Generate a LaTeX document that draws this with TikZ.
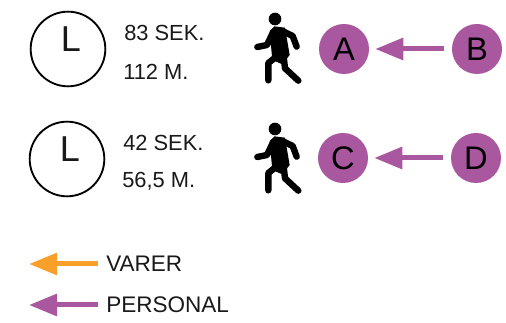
\documentclass[tikz,border=0pt]{standalone}
\usepackage{fontspec}
\setmainfont{Liberation Sans}
\usetikzlibrary{arrows.meta}
\definecolor{purp}{HTML}{A9579F}
\definecolor{oran}{HTML}{F9A02B}
\tikzset{
  x=0.75pt,y=-0.75pt,
  clockface/.style={circle,draw=black,line width=1.4pt,minimum size=56pt,inner sep=0pt},
  hand/.style={inner sep=0pt,text=black!90,font=\fontsize{27}{27}\selectfont},
  stop/.style={circle,fill=purp,minimum size=37.5pt,inner sep=0pt,text=black,font=\fontsize{24.5}{25}\selectfont},
  lbl/.style={anchor=west,inner sep=0pt,text=black!90,font=\fontsize{16.4}{17}\selectfont},
  keylbl/.style={anchor=west,inner sep=0pt,text=black!90,font=\fontsize{16.9}{17}\selectfont},
  flow/.style={line width=3.75pt,-{Triangle[length=21pt,width=16pt]}},
  limb/.style={line width=4.8pt,line cap=round,line join=round,black},
}
\newcommand{\walker}[2]{%
  \begin{scope}[shift={(#1,#2)},x=0.25pt,y=-0.25pt]
    \fill (90,42) circle[radius=19];
    \fill (74,80) -- (88,64) -- (120,68) -- (134,150) -- (112,178) -- (82,165) -- cycle;
    \draw[limb] (112,78) -- (143,93) -- (155,125);
    \draw[limb] (85,80) -- (66,120) -- (37,126);
    \draw[limb] (103,148) -- (70,174) -- (70,226);
    \draw[limb] (116,155) -- (120,190) -- (160,227);
  \end{scope}}
\begin{document}
\begin{tikzpicture}
\useasboundingbox (0,0) rectangle (506,323);
\node[clockface] (c1) at (68,49) {};
\node[hand] (h1) at (71,39.5) {L};
\node[lbl] (t1) at (124,33) {83 SEK.};
\node[lbl] (t2) at (123,72) {112 M.};
\node[clockface] (c2) at (67,159) {};
\node[hand] (h2) at (70,149.5) {L};
\node[lbl] (t3) at (123,143) {42 SEK.};
\node[lbl] (t4) at (122,181) {56,5 M.};
\walker{245}{5}
\walker{245}{115}
\node[stop] (a) at (344,49) {A};
\node[stop] (b) at (477,49) {B};
\node[stop] (c) at (343,158) {C};
\node[stop] (d) at (476,158) {D};
\draw[flow,purp,shorten <=6pt,shorten >=4.5pt] (b) -- (a);
\draw[flow,purp,shorten <=6pt,shorten >=4.5pt] (d) -- (c);
\node[keylbl] (v) at (106,264) {VARER};
\node[keylbl] (p) at (106,305) {PERSONAL};
\coordinate (ve) at (29,264);
\coordinate (pe) at (29,305);
\draw[flow,oran,shorten <=6pt] (v.west) -- (ve);
\draw[flow,purp,shorten <=6pt] (p.west) -- (pe);
\end{tikzpicture}
\end{document}
